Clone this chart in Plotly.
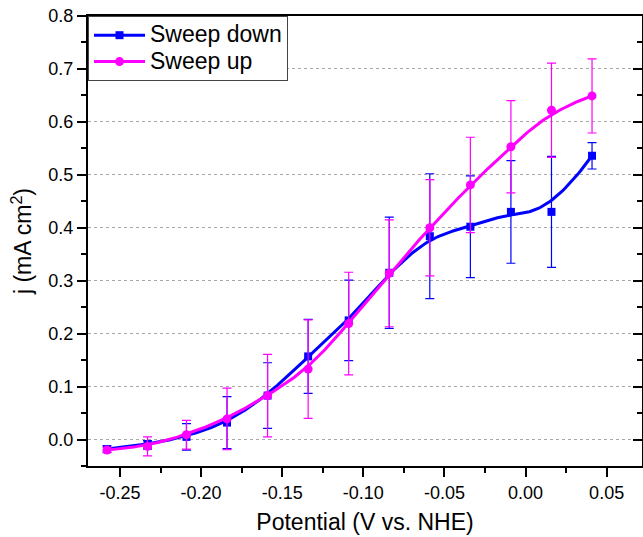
import numpy as np
import plotly.graph_objects as go

# ---- data ----
potential = [-0.258, -0.233, -0.209, -0.184, -0.159, -0.134, -0.109,
             -0.084, -0.059, -0.034, -0.009, 0.016, 0.041]

down_j = [-0.018, -0.010, 0.005, 0.032, 0.083, 0.157, 0.225,
          0.315, 0.384, 0.402, 0.430, 0.430, 0.536]
down_err = [0.006, 0.008, 0.025, 0.049, 0.062, 0.070, 0.076,
            0.105, 0.118, 0.096, 0.097, 0.105, 0.025]

up_j = [-0.020, -0.013, 0.009, 0.039, 0.083, 0.133, 0.219,
        0.314, 0.400, 0.481, 0.553, 0.622, 0.649]
up_err = [0.005, 0.018, 0.027, 0.058, 0.078, 0.093, 0.097,
          0.101, 0.091, 0.090, 0.087, 0.089, 0.070]

x_ticks = [-0.25, -0.20, -0.15, -0.10, -0.05, 0.00, 0.05]
y_ticks = [0.0, 0.1, 0.2, 0.3, 0.4, 0.5, 0.6, 0.7, 0.8]

BLUE = "#0000ff"
MAGENTA = "#ff00ff"
FONT = "Arial, Liberation Sans, sans-serif"


def bspline(cx, cy, n=400, k=3):
    """Clamped uniform cubic B-spline through control points (like Origin's B-Spline)."""
    P = np.column_stack([cx, cy]).astype(float)
    m = len(P)
    knots = np.concatenate([np.zeros(k), np.linspace(0, 1, m - k + 1), np.ones(k)])
    out = []
    for tt in np.linspace(0, 1, n):
        if tt >= 1:
            i = m - 1
        else:
            i = int(np.searchsorted(knots, tt, side="right") - 1)
        d = [P[j + i - k].copy() for j in range(k + 1)]
        for r in range(1, k + 1):
            for j in range(k, r - 1, -1):
                den = knots[j + 1 + i - r] - knots[j + i - k]
                a = 0.0 if den == 0 else (tt - knots[j + i - k]) / den
                d[j] = (1 - a) * d[j - 1] + a * d[j]
        out.append(d[k])
    out = np.array(out)
    return out[:, 0], out[:, 1]


fig = go.Figure()

series = [
    ("Sweep down", down_j, down_err, BLUE, "square", 8),
    ("Sweep up", up_j, up_err, MAGENTA, "circle", 9),
]

for name, yv, err, col, sym, msz in series:
    sx, sy = bspline(potential, yv)
    fig.add_trace(go.Scatter(x=sx, y=sy, mode="lines",
                             line=dict(color=col, width=3),
                             showlegend=False, hoverinfo="skip"))
    fig.add_trace(go.Scatter(x=potential, y=yv, mode="markers",
                             marker=dict(color=col, symbol=sym, size=msz),
                             error_y=dict(type="data", array=err, visible=True,
                                          color=col, thickness=1.2, width=4.5),
                             showlegend=False))
    # legend entry
    fig.add_trace(go.Scatter(x=[None], y=[None], mode="lines+markers",
                             name=f"<span style='font-size:23px'>{name}</span>",
                             line=dict(color=col, width=3),
                             marker=dict(color=col, symbol=sym, size=msz),
                             yaxis="y2"))

fig.update_layout(
    width=643, height=537,
    margin=dict(l=88, r=1, t=16, b=71),
    paper_bgcolor="white", plot_bgcolor="white",
    font=dict(family=FONT, color="black", size=18),
    legend=dict(x=0, y=1, xanchor="left", yanchor="top",
                bgcolor="white", bordercolor="#444", borderwidth=1,
                font=dict(size=18, family=FONT), itemwidth=51,
                tracegroupgap=0),
    xaxis=dict(
        range=[-0.2697, 0.0718],
        tickvals=x_ticks, ticktext=[f"{v:.2f}" for v in x_ticks],
        ticks="outside", ticklen=9, tickwidth=2, tickcolor="black",
        minor=dict(ticks="outside", ticklen=5, tickwidth=2, tickcolor="black",
                   tick0=-0.275, dtick=0.05),
        showline=True, linecolor="black", linewidth=2, mirror=True,
        showgrid=False, zeroline=False,
        tickfont=dict(size=18, family=FONT),
        title=dict(text="Potential (V vs. NHE)", font=dict(size=23, family=FONT),
                   standoff=12),
        automargin=False,
    ),
    yaxis=dict(
        range=[-0.05, 0.8],
        tickvals=y_ticks, ticktext=[f"{v:.1f}" for v in y_ticks],
        ticks="outside", ticklen=9, tickwidth=2, tickcolor="black",
        minor=dict(ticks="outside", ticklen=5, tickwidth=2, tickcolor="black",
                   tick0=-0.05, dtick=0.1, showgrid=False),
        showline=True, linecolor="black", linewidth=2,
        showgrid=True, gridcolor="#a8a8a8", gridwidth=1, griddash="3px,3px",
        zeroline=False,
        tickfont=dict(size=18, family=FONT),
        title=dict(text="j (mA cm<sup>2</sup>)", font=dict(size=23, family=FONT),
                   standoff=10),
        automargin=False,
    ),
    yaxis2=dict(
        overlaying="y", side="right", range=[-0.05, 0.8],
        tickvals=y_ticks, showticklabels=False,
        ticks="inside", ticklen=9, tickwidth=2, tickcolor="black",
        minor=dict(ticks="inside", ticklen=5, tickwidth=2, tickcolor="black",
                   tick0=-0.05, dtick=0.1),
        showline=True, linecolor="black", linewidth=2,
        showgrid=False, zeroline=False,
    ),
)

fig.write_html("out.html", config={"displayModeBar": False},
               post_script="document.body.style.margin='0';document.body.style.overflow='hidden';")
